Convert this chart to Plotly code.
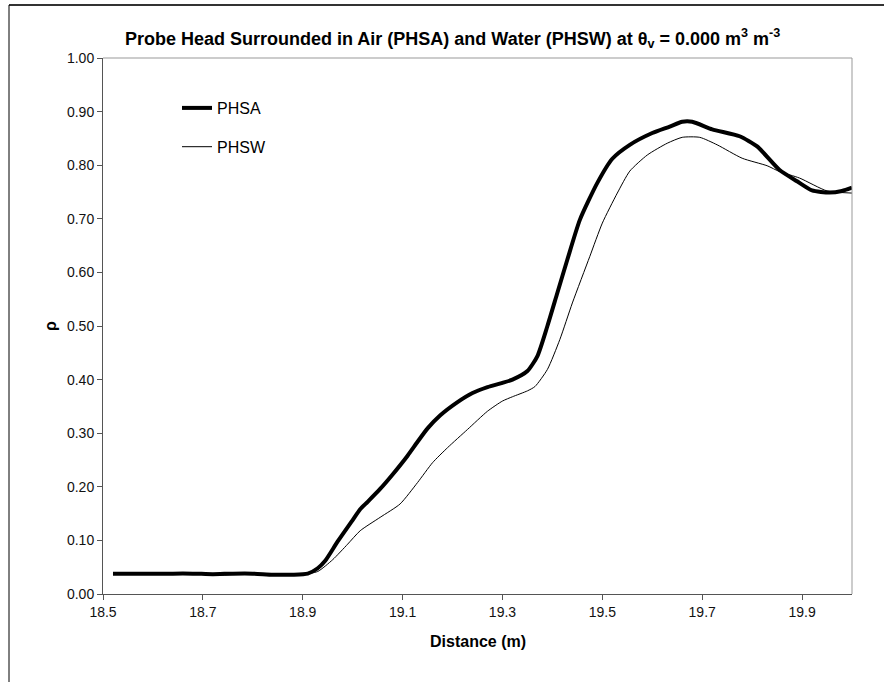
import plotly.graph_objects as go

# Distance along the probe (m) and reflection coefficient rho for each case
phsa_x = [18.52, 18.56, 18.60, 18.64, 18.68, 18.72, 18.76, 18.80, 18.84, 18.88,
          18.91, 18.93, 18.945, 18.97, 19.00, 19.015, 19.03, 19.055, 19.08, 19.11,
          19.13, 19.15, 19.175, 19.21, 19.24, 19.27, 19.30, 19.32, 19.35, 19.37,
          19.39, 19.41, 19.43, 19.455, 19.49, 19.52, 19.555, 19.60, 19.635, 19.66,
          19.68, 19.72, 19.775, 19.81, 19.855, 19.89, 19.92, 19.955, 19.98, 20.00]
phsa_y = [0.038, 0.038, 0.038, 0.038, 0.038, 0.037, 0.038, 0.038, 0.036, 0.036,
          0.038, 0.048, 0.062, 0.098, 0.138, 0.158, 0.172, 0.196, 0.223, 0.258,
          0.284, 0.309, 0.333, 0.358, 0.375, 0.386, 0.394, 0.400, 0.416, 0.444,
          0.500, 0.562, 0.624, 0.698, 0.767, 0.812, 0.838, 0.860, 0.872, 0.881,
          0.881, 0.867, 0.854, 0.835, 0.791, 0.770, 0.753, 0.749, 0.752, 0.758]

phsw_x = [18.52, 18.60, 18.70, 18.74, 18.78, 18.82, 18.86, 18.90, 18.93, 18.96,
          18.99, 19.015, 19.055, 19.095, 19.13, 19.16, 19.19, 19.23, 19.27, 19.30,
          19.32, 19.35, 19.365, 19.39, 19.415, 19.44, 19.475, 19.50, 19.53, 19.555,
          19.59, 19.63, 19.66, 19.695, 19.73, 19.78, 19.83, 19.855, 19.895, 19.95,
          20.00]
phsw_y = [0.038, 0.038, 0.038, 0.035, 0.038, 0.036, 0.036, 0.037, 0.042, 0.064,
          0.093, 0.118, 0.143, 0.168, 0.208, 0.245, 0.273, 0.307, 0.341, 0.360,
          0.368, 0.379, 0.387, 0.419, 0.475, 0.543, 0.630, 0.692, 0.748, 0.789,
          0.819, 0.841, 0.852, 0.852, 0.838, 0.813, 0.799, 0.788, 0.776, 0.752,
          0.748]

x_ticks = [18.5, 18.7, 18.9, 19.1, 19.3, 19.5, 19.7, 19.9]
y_ticks = [0.0, 0.1, 0.2, 0.3, 0.4, 0.5, 0.6, 0.7, 0.8, 0.9, 1.0]

FONT = "Arial, Liberation Sans, sans-serif"
W, H = 884, 682
ML, MR, MT, MB = 103, 32, 58, 88
PW, PH = W - ML - MR, H - MT - MB


def px_x(p):
    return (p - ML) / PW


def px_y(p):
    return (H - MB - p) / PH


fig = go.Figure()
fig.add_trace(go.Scatter(
    x=phsa_x, y=phsa_y, name="PHSA", mode="lines", legendgroup="a",
    line=dict(color="black", width=4, shape="spline", smoothing=0.6)))
fig.add_trace(go.Scatter(
    x=phsw_x, y=phsw_y, name="PHSW", mode="lines", legendgroup="w",
    line=dict(color="black", width=1, shape="spline", smoothing=0.6)))

axis_common = dict(
    showgrid=False, zeroline=False, showline=True, linecolor="#555555",
    linewidth=1, ticks="outside", ticklen=5, tickcolor="#555555",
    tickfont=dict(family=FONT, size=14, color="#111111"))

fig.update_xaxes(range=[18.5, 20.0], tickvals=x_ticks,
                 ticktext=[f"{v:.1f}" for v in x_ticks], **axis_common)
fig.update_yaxes(range=[0, 1.0], tickvals=y_ticks,
                 ticktext=[f"{v:.2f}" for v in y_ticks], **axis_common)

shapes = [
    # top and right edges of the plot area
    dict(type="line", xref="x domain", yref="y domain", x0=0, x1=1, y0=1, y1=1,
         line=dict(color="#999999", width=1)),
    dict(type="line", xref="x domain", yref="y domain", x0=1, x1=1, y0=0, y1=1,
         line=dict(color="#999999", width=1)),
    # outer chart frame
    dict(type="line", xref="paper", yref="paper", x0=px_x(9), x1=px_x(W + 5),
         y0=px_y(5), y1=px_y(5), line=dict(color="#333333", width=2)),
    dict(type="line", xref="paper", yref="paper", x0=px_x(9), x1=px_x(9),
         y0=px_y(5), y1=px_y(H + 5), line=dict(color="black", width=1)),
]

annotations = [
    dict(text="Probe Head Surrounded in Air (PHSA) and Water (PHSW) at "
              "θ<sub>v</sub> = 0.000 m<sup>3</sup> m<sup>-3</sup>",
         xref="paper", yref="paper", x=px_x(452), y=px_y(38),
         xanchor="center", yanchor="middle", showarrow=False,
         font=dict(family=FONT, size=18, color="black", weight="bold")),
    dict(text="Distance (m)", xref="paper", yref="paper", x=px_x(478), y=px_y(641),
         xanchor="center", yanchor="middle", showarrow=False,
         font=dict(family=FONT, size=16, color="black", weight="bold")),
    dict(text="ρ", xref="paper", yref="paper", x=px_x(50), y=px_y(326),
         xanchor="center", yanchor="middle", showarrow=False, textangle=-90,
         font=dict(family=FONT, size=16, color="black", weight="bold")),
]

fig.update_layout(
    width=W, height=H, margin=dict(l=ML, r=MR, t=MT, b=MB),
    paper_bgcolor="white", plot_bgcolor="white",
    shapes=shapes, annotations=annotations,
    showlegend=True,
    legend=dict(x=px_x(177), y=px_y(91), xanchor="left", yanchor="top",
                bgcolor="rgba(0,0,0,0)", borderwidth=0, tracegroupgap=15,
                traceorder="grouped",
                font=dict(family=FONT, size=16, color="black")),
)

fig.write_html("out.html")
